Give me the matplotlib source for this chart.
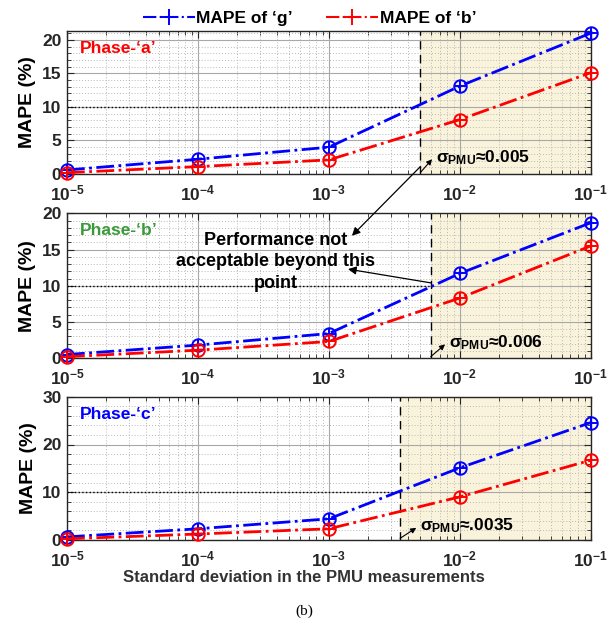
import numpy as np
import matplotlib
matplotlib.use('Agg')
import matplotlib.pyplot as plt
from matplotlib.lines import Line2D
from matplotlib.ticker import LogLocator, MultipleLocator, NullFormatter

plt.rcParams['font.family'] = 'Liberation Sans'
plt.rcParams['font.weight'] = 'bold'
plt.rcParams['mathtext.fontset'] = 'custom'
plt.rcParams['mathtext.rm'] = 'Liberation Sans:bold'
plt.rcParams['mathtext.it'] = 'Liberation Sans:bold'
plt.rcParams['mathtext.bf'] = 'Liberation Sans:bold'

# noise levels (std. dev. of PMU measurements)
sigma = [1e-5, 1e-4, 1e-3, 1e-2, 1e-1]

# MAPE (%) of conductance 'g' and susceptance 'b' per phase
mape_g = {'a': [0.6, 2.2, 4.0, 13.1, 21.0],
          'b': [0.5, 1.8, 3.4, 11.7, 18.7],
          'c': [0.6, 2.3, 4.4, 15.1, 24.6]}
mape_b = {'a': [0.2, 1.1, 2.1, 8.1, 15.1],
          'b': [0.2, 1.1, 2.3, 8.3, 15.5],
          'c': [0.2, 1.2, 2.3, 9.0, 16.7]}

# threshold where MAPE crosses 10 %
sigma_lim = {'a': 0.005, 'b': 0.006, 'c': 0.0035}
sigma_txt = {'a': r'$\sigma_{PMU}$≈0.005', 'b': r'$\sigma_{PMU}$≈0.006', 'c': r'$\sigma_{PMU}$≈.0035'}
phase_col = {'a': '#ff0000', 'b': '#3a9a3a', 'c': '#0000ff'}
ylims = {'a': (0, 21.3), 'b': (0, 20), 'c': (0, 30)}
ymaj = {'a': 5, 'b': 5, 'c': 10}
ymin = {'a': 1, 'b': 1, 'c': 2}
txt_pos = {'a': (0.0066, 2.4), 'b': (0.0083, 2.1), 'c': (0.0050, 2.9)}

fig = plt.figure(figsize=(6.09, 6.35), dpi=100)
boxes = {'a': [0.110, 0.726, 0.860, 0.225],
         'b': [0.110, 0.436, 0.860, 0.228],
         'c': [0.110, 0.150, 0.860, 0.225]}
axs = {}
axc = '#262626'
for ph in ['a', 'b', 'c']:
    ax = fig.add_axes(boxes[ph])
    axs[ph] = ax
    ax.set_xscale('log')
    ax.set_xlim(1e-5, 1e-1)
    ax.set_ylim(*ylims[ph])
    ax.set_axisbelow(True)

    xl = sigma_lim[ph]
    ax.axvspan(xl, 1e-1, color='#faf3dc', zorder=0.2, lw=0)
    ax.axvline(xl, color='black', ls=(0, (6, 4)), lw=1, zorder=2)
    ax.plot([1e-5, xl], [10, 10], color='black', ls=':', lw=1, zorder=2)

    ax.plot(sigma, mape_g[ph], color='#0000ff', ls='-.', lw=2, marker='o', ms=9,
            mfc='none', mew=1.4, zorder=3, clip_on=False)
    ax.plot(sigma, mape_g[ph], ls='none', color='#0000ff', marker='+', ms=9, mew=1.4,
            zorder=3, clip_on=False)
    ax.plot(sigma, mape_b[ph], color='#ff0000', ls='-.', lw=2, marker='o', ms=9,
            mfc='none', mew=1.4, zorder=3, clip_on=False)
    ax.plot(sigma, mape_b[ph], ls='none', color='#ff0000', marker='+', ms=9, mew=1.4,
            zorder=3, clip_on=False)

    ax.xaxis.set_major_locator(LogLocator(base=10, numticks=10))
    ax.xaxis.set_minor_locator(LogLocator(base=10, subs=np.arange(2, 10), numticks=10))
    ax.xaxis.set_minor_formatter(NullFormatter())
    ax.yaxis.set_major_locator(MultipleLocator(ymaj[ph]))
    ax.yaxis.set_minor_locator(MultipleLocator(ymin[ph]))

    ax.grid(which='major', color='#a8a8a8', lw=0.8, ls='-')
    ax.grid(which='minor', color='#b8b8b8', lw=0.7, ls=(0, (1, 2)))
    ax.tick_params(which='both', direction='in', top=True, right=True, colors=axc,
                   labelsize=12.5)
    ax.tick_params(which='major', length=5, pad=4)
    ax.tick_params(axis='x', which='major', pad=7)
    ax.tick_params(which='minor', length=3)
    for lbl in ax.get_yticklabels() + ax.get_xticklabels():
        lbl.set_fontweight('bold')
    for s in ax.spines.values():
        s.set_color(axc)
        s.set_linewidth(1)
    ax.set_ylabel('MAPE (%)', fontsize=14, fontweight='bold', color='black', labelpad=4)

    ax.text(0.025, 0.93, "Phase-‘%s’" % ph, transform=ax.transAxes, color=phase_col[ph],
            fontsize=12.5, fontweight='bold', va='top', ha='left')

    tx, ty = txt_pos[ph]
    ax.text(tx, ty, sigma_txt[ph], fontsize=12.5, fontweight='bold', va='center', ha='left',
            zorder=5)
    ax.annotate('', xy=(tx * 0.93, ty - 0.1 * ymaj[ph] / 5 * 2),
                xytext=(xl, ylims[ph][1] * 0.01),
                arrowprops=dict(arrowstyle='-|>', color='black', lw=0.8,
                                mutation_scale=8, shrinkA=0, shrinkB=0),
                annotation_clip=False, zorder=5)

axs['c'].set_xlabel('Standard deviation in the PMU measurements', fontsize=12,
                    fontweight='bold', color='#333333')
axs['c'].xaxis.set_label_coords(0.452, -0.21)

# note about the acceptable limit, with arrows from the thresholds
ax2 = axs['b']
ax2.text(0.00039, 13.3, 'Performance not\nacceptable beyond this\npoint', ha='center',
         va='center', fontsize=13, fontweight='bold', color='black', linespacing=1.35,
         zorder=6)
ax2.annotate('', xy=(0.0015, 16.9), xycoords=ax2.transData,
             xytext=(sigma_lim['a'], 1.1), textcoords=axs['a'].transData,
             arrowprops=dict(arrowstyle='-|>', color='black', lw=0.9, mutation_scale=12,
                             shrinkA=0, shrinkB=0),
             annotation_clip=False, zorder=6)
ax2.annotate('', xy=(0.0014, 12.3), xytext=(sigma_lim['b'], 10.4),
             arrowprops=dict(arrowstyle='-|>', color='black', lw=0.9, mutation_scale=12,
                             shrinkA=0, shrinkB=0),
             annotation_clip=False, zorder=6)

handles = [Line2D([], [], color='#0000ff', ls='-.', lw=1.5, marker='+', ms=12, mew=1.4),
           Line2D([], [], color='#ff0000', ls='-.', lw=1.5, marker='+', ms=12, mew=1.4)]
fig.legend(handles, ['MAPE of ‘g’', 'MAPE of ‘b’'], loc='upper center',
           bbox_to_anchor=(0.508, 1.008), ncol=2, frameon=False,
           handlelength=3.0, handletextpad=0.1, columnspacing=1.9,
           prop={'weight': 'bold', 'size': 12.5})

fig.text(0.50, 0.038, '(b)', ha='center', va='center', fontsize=11,
         family='Liberation Serif', fontweight='normal')

fig.savefig('out.png', dpi=100)
